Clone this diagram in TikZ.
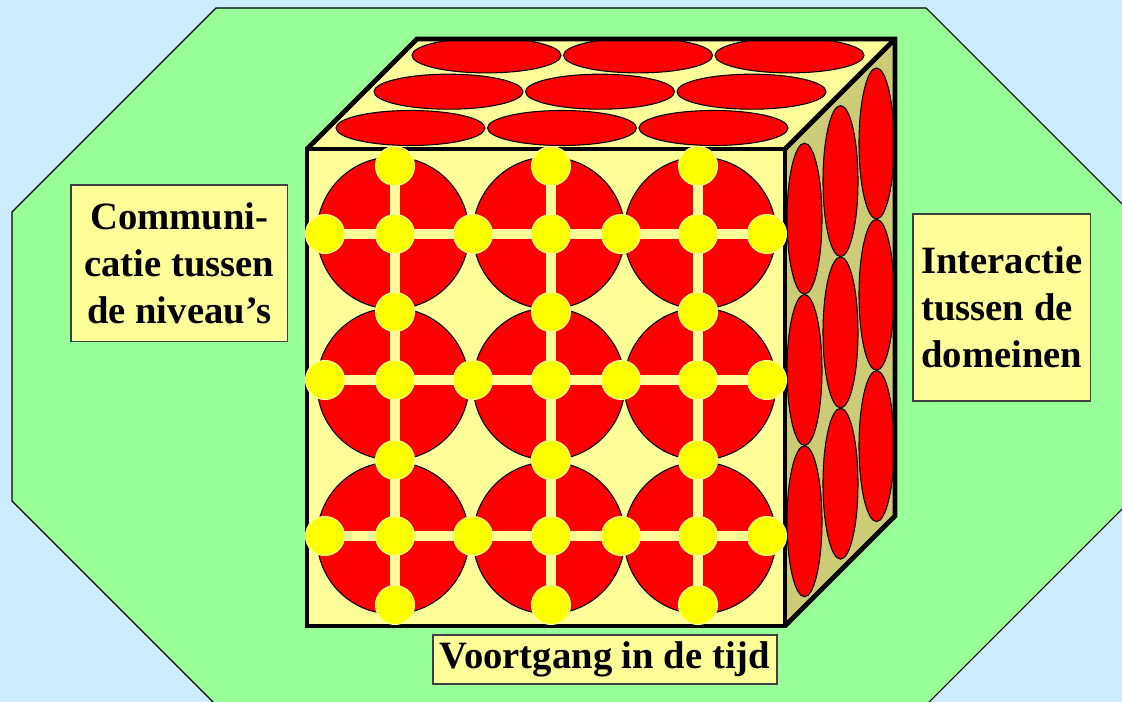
\documentclass[tikz,border=0pt]{standalone}
\usepackage{fontspec}
\setmainfont{Liberation Serif}
\begin{document}
\begin{tikzpicture}[x=0.75pt, y=-0.75pt,
        labelbox/.style={draw=black!75, line width=1pt, fill=mypale, inner sep=0pt,
          font=\fontsize{29}{35.25}\selectfont\bfseries},
        redshape/.style={draw=black, line width=0.8pt, fill=red},
        gridline/.style={draw=mypale, line width=7.5pt},
        dot/.style={fill=myyellow, draw=mypale, line width=0.8pt},
        cubeedge/.style={line width=3.5pt, line join=miter}]
        \definecolor{mybg}{RGB}{204,236,255}
        \definecolor{mygreen}{RGB}{153,255,153}
        \definecolor{mypale}{RGB}{255,255,153}
        \definecolor{mykhaki}{RGB}{204,204,119}
        \definecolor{myyellow}{RGB}{255,255,0}
        \useasboundingbox (0,0) rectangle (1122,702);
        \clip (0,0) rectangle (1122,702);
        \fill[mybg] (0,0) rectangle (1122,702);
        % achtergrond-achthoek
        \draw[fill=mygreen, line width=0.8pt] (216,8) -- (926,8) -- (1130,212) -- (1130,501)
          -- (926,705) -- (216,705) -- (12,501) -- (12,212) -- cycle;
        % kubus
        \fill[mypale] (307,149) rectangle (785,626);
        \fill[mypale] (307,149) -- (417,39) -- (895,39) -- (785,149) -- cycle;
        \fill[mykhaki] (785,149) -- (895,39) -- (895,516) -- (785,626) -- cycle;
        \foreach \j in {0,1,2}
          \foreach \i in {0,1,2}
            \draw[redshape] ({410.5+151.5*\i+38*\j},{128-36.3*\j}) ellipse (74.5 and 17.5);
        \foreach \j in {0,1,2}
          \foreach \k in {0,1,2}
            \draw[redshape] ({804.5+36*\j},{218.7+151.3*\k-37.6*\j}) ellipse (17.5 and 75.5);
        \foreach \cx in {393,549,700}
          \foreach \cy in {233,384,538}
            \draw[redshape] (\cx,\cy) circle (76);
        \foreach \y in {234,380,536}
          \draw[gridline] (325,\y) -- (767,\y);
        \foreach \x in {395,551,698}
          \draw[gridline] (\x,166) -- (\x,605);
        \draw[cubeedge] (307,149) rectangle (785,626);
        \draw[cubeedge] (307,149) -- (417,39) -- (895,39) -- (895,516) -- (785,626);
        \draw[cubeedge] (785,149) -- (895,39);
        % knooppunten
        \foreach \y in {234,380,536}
          \foreach \x in {325,395,473,551,621,698,767}
            \draw[dot] (\x,\y) circle (19.5);
        \foreach \x in {395,551,698}
          \foreach \y in {166,312,460,605}
            \draw[dot] (\x,\y) circle (19.5);
        % labels
        \node[labelbox, minimum width=162.5pt, minimum height=117.5pt, align=center] (niveaus)
          at (179.3,263.3) {Communi-\\catie tussen\\de niveau’s};
        \node[labelbox, minimum width=133.3pt, minimum height=140.25pt, align=left] (domeinen)
          at (1001.8,307.5) {Interactie\\tussen de\\domeinen};
        \node[labelbox, minimum width=258pt, minimum height=36.75pt] (tijd)
          at (605,659.5) {Voortgang in de tijd};
\end{tikzpicture}
\end{document}
